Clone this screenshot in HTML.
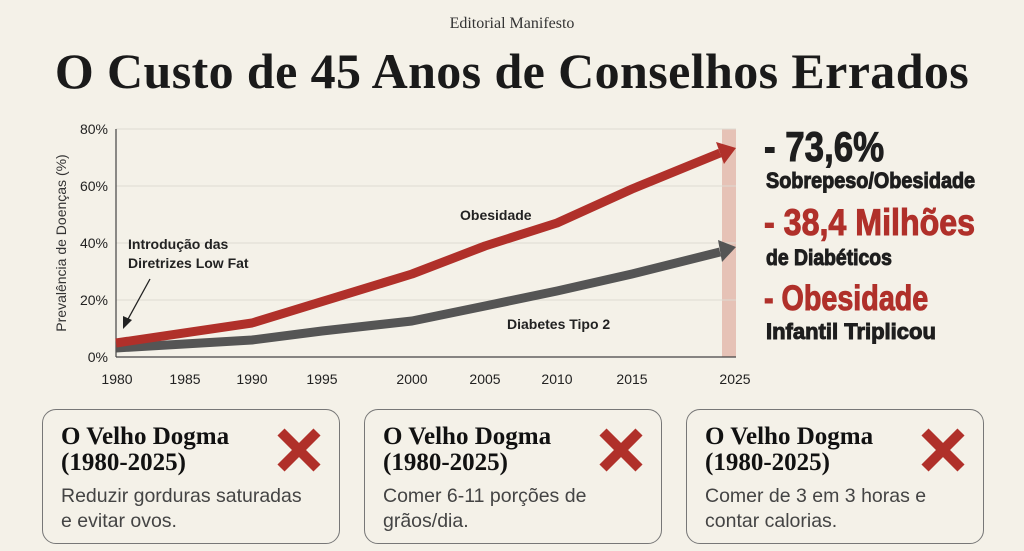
<!DOCTYPE html>
<html><head><meta charset="utf-8"><style>
body{margin:0;width:1024px;height:551px;background:#f4f1e8;position:relative;overflow:hidden;font-family:"Liberation Sans",sans-serif}
.abs{position:absolute}
.card{position:absolute;top:409px;width:298px;height:135px;border:1.5px solid #777;border-radius:14px;box-sizing:border-box;background:#f4f1e8}
.card h3{margin:0;position:absolute;left:18px;top:14px;font:bold 25px/26px "Liberation Serif",serif;color:#111}
.card p{margin:0;position:absolute;left:18px;top:74px;font:19.5px/25px "Liberation Sans",sans-serif;color:#444}
.card .x{position:absolute;right:16px;top:16px}
.st{font-family:"Liberation Sans Narrow","Liberation Sans",sans-serif;font-weight:bold;transform-origin:left top;white-space:nowrap;-webkit-text-stroke:1px currentColor}
</style></head><body>
<div class="abs" style="left:0;width:1024px;top:15px;text-align:center;font:16px 'Liberation Serif',serif;color:#333">Editorial Manifesto</div>
<div class="abs" style="left:0;width:1024px;top:42px;text-align:center;font:bold 50px 'Liberation Serif',serif;color:#1a1a1a;letter-spacing:0.4px">O Custo de 45 Anos de Conselhos Errados</div>
<svg class="abs" style="left:0;top:0" width="1024" height="400">
<rect x="722" y="129" width="14" height="228" fill="#e6c2b6"/>
<g stroke="#dedbd2" stroke-width="1">
<line x1="116" y1="129" x2="736" y2="129"/><line x1="116" y1="186" x2="736" y2="186"/><line x1="116" y1="243" x2="736" y2="243"/><line x1="116" y1="300" x2="736" y2="300"/></g>
<line x1="116" y1="129" x2="116" y2="357" stroke="#444" stroke-width="1.2"/>
<line x1="116" y1="357" x2="736" y2="357" stroke="#444" stroke-width="1.2"/>
<g font-size="14" fill="#222" text-anchor="end">
<text x="108" y="134">80%</text><text x="108" y="191">60%</text><text x="108" y="248">40%</text><text x="108" y="305">20%</text><text x="108" y="362">0%</text></g>
<g font-size="14" fill="#222" text-anchor="middle">
<text x="117" y="384">1980</text><text x="185" y="384">1985</text><text x="252" y="384">1990</text><text x="322" y="384">1995</text><text x="412" y="384">2000</text><text x="485" y="384">2005</text><text x="557" y="384">2010</text><text x="632" y="384">2015</text><text x="735" y="384">2025</text></g>
<text transform="translate(66,243) rotate(-90)" text-anchor="middle" font-size="14" fill="#333">Prevalência de Doenças (%)</text>
<polyline points="116,348 252,340 322,331 412,321 485,306 557,291 632,274 720,252" fill="none" stroke="#555" stroke-width="9" stroke-linejoin="round"/>
<polygon points="736,247 718,240 722,262" fill="#555"/>
<polyline points="116,343 252,323 412,274 485,246 557,223 632,189 720,153" fill="none" stroke="#b0302a" stroke-width="9" stroke-linejoin="round"/>
<polygon points="736,148 716,142 724,164" fill="#b0302a"/>
<text x="460" y="220" font-size="14" font-weight="bold" fill="#222">Obesidade</text>
<text x="507" y="329" font-size="14" font-weight="bold" fill="#222">Diabetes Tipo 2</text>
<text x="128" y="249" font-size="14" font-weight="bold" fill="#222">Introdução das</text>
<text x="128" y="268" font-size="14" font-weight="bold" fill="#222">Diretrizes Low Fat</text>
<line x1="150" y1="279" x2="127" y2="321" stroke="#222" stroke-width="1.3"/>
<polygon points="123,329 123,316 132,320" fill="#222"/>
</svg>
<div class="abs st" style="left:764px;top:123px;font-size:42px;color:#1e1e1e;transform:scaleX(0.83)">- 73,6%</div>
<div class="abs st" style="left:766px;top:168px;font-size:22px;color:#1e1e1e;transform:scaleX(0.9)">Sobrepeso/Obesidade</div>
<div class="abs st" style="left:764px;top:202px;font-size:37px;color:#b0302a;transform:scaleX(0.87)">- 38,4 Milhões</div>
<div class="abs st" style="left:766px;top:245px;font-size:22px;color:#1e1e1e;transform:scaleX(0.88)">de Diabéticos</div>
<div class="abs st" style="left:764px;top:279px;font-size:35px;color:#b0302a;transform:scaleX(0.82)">- Obesidade</div>
<div class="abs st" style="left:766px;top:319px;font-size:22px;color:#1e1e1e;transform:scaleX(1.0)">Infantil Triplicou</div>
<div class="card" style="left:42px"><h3>O Velho Dogma<br>(1980-2025)</h3><svg class="x" width="48" height="48"><path d="M6 6L42 42M42 6L6 42" stroke="#b0302a" stroke-width="10"/></svg><p>Reduzir gorduras saturadas<br>e evitar ovos.</p></div>
<div class="card" style="left:364px"><h3>O Velho Dogma<br>(1980-2025)</h3><svg class="x" width="48" height="48"><path d="M6 6L42 42M42 6L6 42" stroke="#b0302a" stroke-width="10"/></svg><p>Comer 6-11 porções de<br>grãos/dia.</p></div>
<div class="card" style="left:686px"><h3>O Velho Dogma<br>(1980-2025)</h3><svg class="x" width="48" height="48"><path d="M6 6L42 42M42 6L6 42" stroke="#b0302a" stroke-width="10"/></svg><p>Comer de 3 em 3 horas e<br>contar calorias.</p></div>
</body></html>
